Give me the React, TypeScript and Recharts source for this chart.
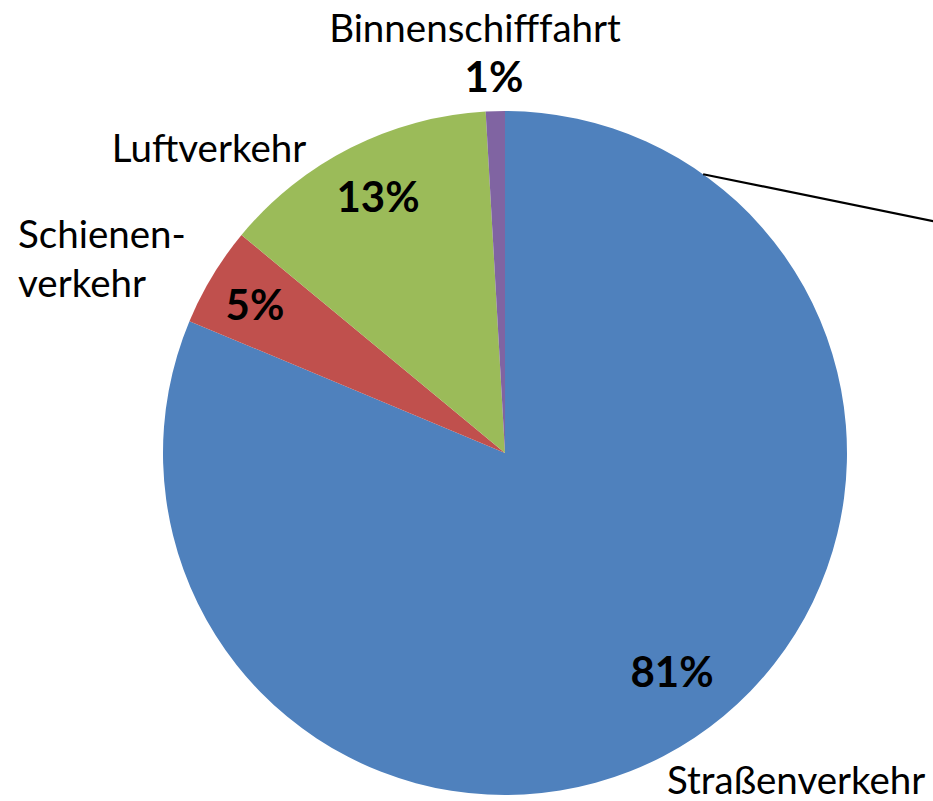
import React from 'react';
import { PieChart, Pie, Cell } from 'recharts';

// ---- data ----
const categories = ['Straßenverkehr', 'Schienenverkehr', 'Luftverkehr', 'Binnenschifffahrt'];
const shares = [81.3, 4.7, 13.1, 0.9];
const percentLabels = ['81%', '5%', '13%', '1%'];
const nameLines = [['Straßenverkehr'], ['Schienen-', 'verkehr'], ['Luftverkehr'], ['Binnenschifffahrt']];
const colors = ['#4F81BD', '#C0504D', '#9BBB59', '#8064A2'];

const data = categories.map((c, i) => ({ name: c, value: shares[i] }));

// ---- label layout (offsets from pie centre, px) ----
const nameLayout = [
  { dx: 162, dy: 341, anchor: 'start' },
  { dx: -487, dy: -205, anchor: 'start' },
  { dx: -296, dy: -291, anchor: 'middle' },
  { dx: -30, dy: -411, anchor: 'middle' },
];
const pctLayout = [
  { dx: 167, dy: 234 },
  { dx: -250, dy: -133 },
  { dx: -127, dy: -241 },
  { dx: -11, dy: -361 },
];
const FONT = 'Lato, "Open Sans", sans-serif';
const NAME_SIZE = 38.5;
const PCT_SIZE = 42;
const LINE_H = 49;
const CONNECTOR_ANGLE = 35.4; // degrees clockwise from north
const CONNECTOR_SLOPE = 0.204;

const renderLabel = (props: any) => {
  const { cx, cy, outerRadius, index } = props;
  const nl = nameLayout[index];
  const pl = pctLayout[index];
  let connector = null;
  if (index === 0) {
    const a = (CONNECTOR_ANGLE * Math.PI) / 180;
    const x1 = cx + outerRadius * Math.sin(a);
    const y1 = cy - outerRadius * Math.cos(a);
    const x2 = x1 + 400;
    const y2 = y1 + 400 * CONNECTOR_SLOPE;
    connector = <line x1={x1} y1={y1} x2={x2} y2={y2} stroke="#000" strokeWidth={2.2} />;
  }
  return (
    <g key={`lbl-${index}`}>
      {connector}
      <text x={cx + nl.dx} y={cy + nl.dy} textAnchor={nl.anchor} fontFamily={FONT} fontSize={NAME_SIZE} fill="#000">
        {nameLines[index].map((l, k) => (
          <tspan key={k} x={cx + nl.dx} y={cy + nl.dy + k * LINE_H}>{l}</tspan>
        ))}
      </text>
      <text x={cx + pl.dx} y={cy + pl.dy} textAnchor="middle" fontFamily={FONT} fontSize={PCT_SIZE} fontWeight="bold" fill="#000">
        {percentLabels[index]}
      </text>
    </g>
  );
};

export default function App() {
  return (
    <div style={{ position: 'fixed', left: 0, top: 0, width: 933, height: 801, background: '#fff' }}>
      <PieChart width={933} height={801} margin={{ top: 0, right: 0, bottom: 0, left: 0 }} style={{ overflow: 'visible' }}>
        <Pie
          data={data}
          dataKey="value"
          nameKey="name"
          cx={505}
          cy={453}
          outerRadius={342}
          startAngle={90}
          endAngle={-270}
          stroke="none"
          label={renderLabel}
          labelLine={false}
          isAnimationActive={false}
        >
          {data.map((d, i) => (
            <Cell key={d.name} fill={colors[i]} />
          ))}
        </Pie>
      </PieChart>
    </div>
  );
}
